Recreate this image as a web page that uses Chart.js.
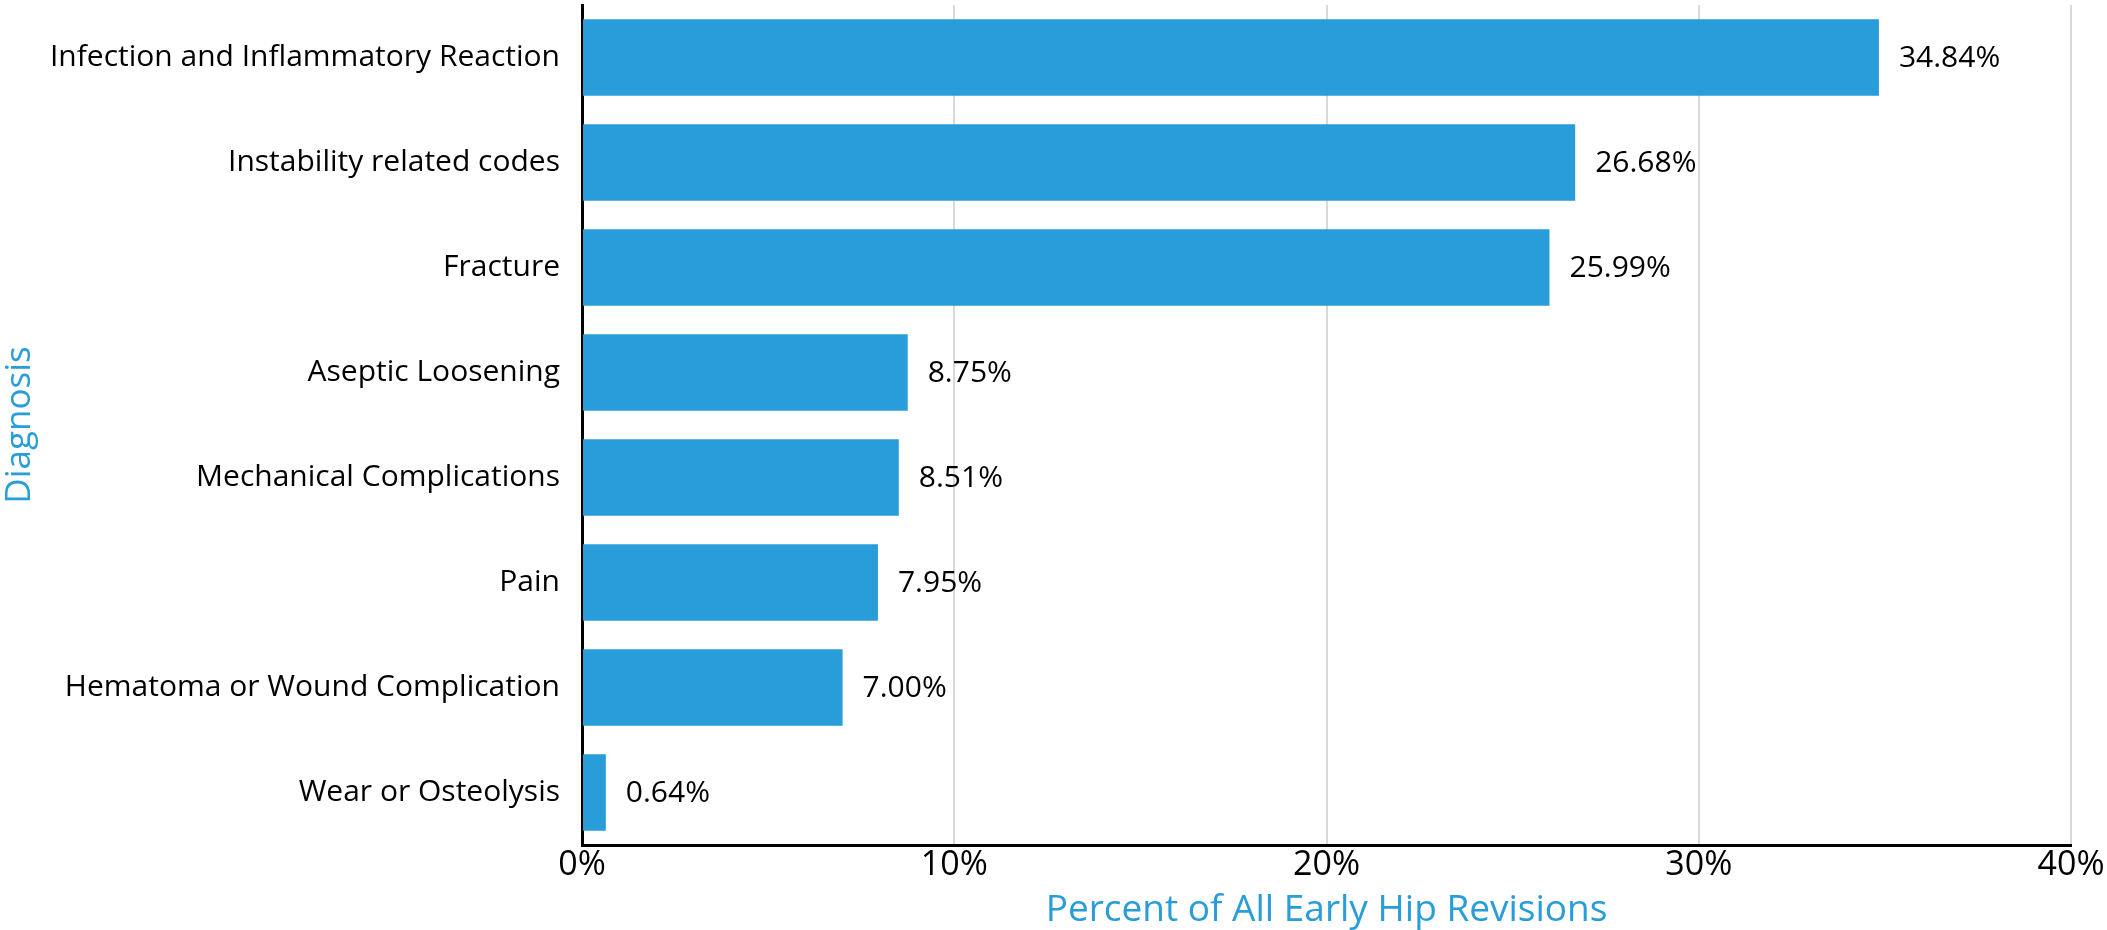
<!DOCTYPE html>
<html>
<head>
<meta charset="utf-8">
<title>Early Hip Revisions by Diagnosis</title>
<script src="https://cdn.jsdelivr.net/npm/chart.js@4/dist/chart.umd.min.js"></script>
<style>
  html, body { margin: 0; padding: 0; background: #fff; }
  #wrap { width: 2107px; height: 930px; }
</style>
</head>
<body>
<div id="wrap"><canvas id="revChart" width="2107" height="930"></canvas></div>
<script>
// diagnoses, top to bottom
const diagnoses = [
  "Infection and Inflammatory Reaction",
  "Instability related codes",
  "Fracture",
  "Aseptic Loosening",
  "Mechanical Complications",
  "Pain",
  "Hematoma or Wound Complication",
  "Wear or Osteolysis"
];
// percent of all early hip revisions
const percents = [34.84, 26.68, 25.99, 8.75, 8.51, 7.95, 7.00, 0.64];
const xTicks = [0, 10, 20, 30, 40];

const BLUE = "#289dd9";
const FONT = "'Open Sans', 'Noto Sans', sans-serif";

// writes the value just past the end of each bar
const valueLabels = {
  id: "valueLabels",
  afterDatasetsDraw(chart) {
    const ctx = chart.ctx;
    const meta = chart.getDatasetMeta(0);
    ctx.save();
    ctx.font = "500 30px " + FONT;
    ctx.fillStyle = "#000";
    ctx.textAlign = "left";
    ctx.textBaseline = "middle";
    meta.data.forEach((bar, i) => {
      ctx.fillText(percents[i].toFixed(2) + "%", bar.x + 20, bar.y + 1);
    });
    ctx.restore();
  }
};

new Chart(document.getElementById("revChart"), {
  type: "bar",
  data: {
    labels: diagnoses,
    datasets: [{
      data: percents,
      backgroundColor: BLUE,
      borderWidth: 0,
      categoryPercentage: 1,
      barPercentage: 0.73
    }]
  },
  options: {
    indexAxis: "y",
    responsive: false,
    animation: false,
    layout: { padding: { top: 5, right: 36, left: 0, bottom: 0 } },
    plugins: { legend: { display: false }, tooltip: { enabled: false } },
    scales: {
      x: {
        min: 0,
        max: 40,
        afterBuildTicks: (axis) => { axis.ticks = xTicks.map(v => ({ value: v })); },
        afterFit: (axis) => { axis.height = 85; axis.paddingRight = 0; axis.paddingLeft = 0; },
        ticks: {
          callback: (v) => v + "%",
          color: "#000",
          font: { family: FONT, size: 34, weight: 500 },
          padding: 0,
          maxRotation: 0
        },
        grid: { color: "#d9d9d9", lineWidth: 2, drawTicks: false },
        border: { color: "#000", width: 3 },
        title: {
          display: true,
          text: "Percent of All Early Hip Revisions",
          color: BLUE,
          font: { family: FONT, size: 37, weight: 500, lineHeight: 1.05 },
          padding: 0
        }
      },
      y: {
        afterFit: (axis) => { axis.width = 582; axis.paddingTop = 0; axis.paddingBottom = 0; },
        ticks: {
          color: "#000",
          font: { family: FONT, size: 30, weight: 500 },
          padding: 22
        },
        grid: { display: false, drawTicks: false },
        border: { color: "#000", width: 3 },
        title: {
          display: true,
          text: "Diagnosis",
          color: BLUE,
          font: { family: FONT, size: 35, weight: 500, lineHeight: 1.15 },
          padding: 0
        }
      }
    }
  },
  plugins: [valueLabels]
});
</script>
</body>
</html>
